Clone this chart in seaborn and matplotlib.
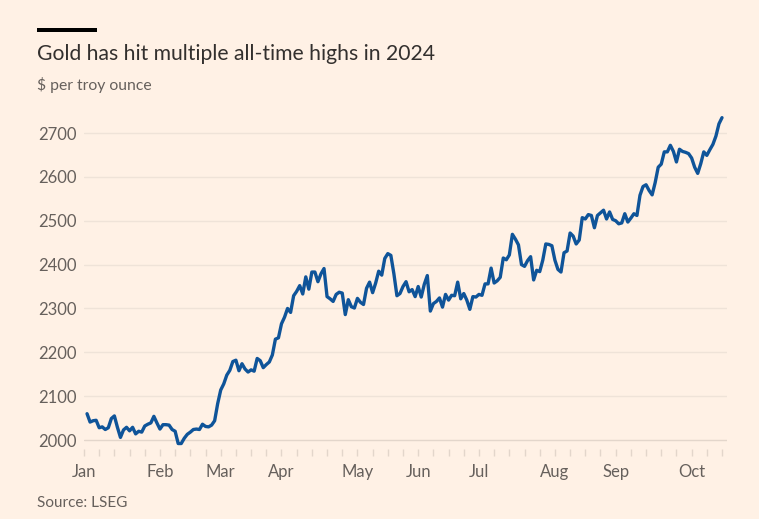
# Gold price 2024 chart (FT style)
import pandas as pd
import numpy as np
import matplotlib.pyplot as plt
from matplotlib.patches import Rectangle
import seaborn as sns

# daily prices ($ per troy ounce), business days per month
jan = [2060, 2041, 2044, 2045, 2028, 2030, 2024, 2028, 2049, 2055, 2029, 2006, 2023, 2029,
       2021, 2029, 2014, 2020, 2018, 2032, 2036, 2039]
feb = [2054, 2039, 2025, 2035, 2035, 2034, 2024, 2020, 1992, 1992, 2004, 2013, 2018, 2024,
       2025, 2024, 2036, 2031, 2030, 2034, 2044]
mar = [2083, 2114, 2128, 2148, 2159, 2179, 2182, 2158, 2174, 2162, 2155, 2160, 2157, 2186,
       2181, 2165, 2172, 2178, 2194, 2230, 2233]
apr = [2265, 2280, 2300, 2291, 2329, 2339, 2352, 2333, 2372, 2344, 2383, 2383, 2361, 2379,
       2391, 2327, 2322, 2316, 2332, 2337, 2335, 2286]
may = [2320, 2304, 2301, 2323, 2314, 2309, 2346, 2360, 2336, 2358, 2385, 2376, 2414, 2425,
       2421, 2379, 2329, 2334, 2350, 2361, 2338, 2343, 2327]
jun = [2350, 2326, 2355, 2375, 2294, 2311, 2316, 2324, 2303, 2332, 2319, 2330, 2329, 2360,
       2322, 2334, 2319, 2298, 2327, 2326]
jul = [2332, 2330, 2356, 2356, 2392, 2358, 2363, 2371, 2415, 2411, 2422, 2469, 2458, 2445,
       2400, 2396, 2409, 2418, 2365, 2387, 2384, 2410, 2447]
aug = [2446, 2443, 2410, 2389, 2383, 2427, 2431, 2472, 2465, 2447, 2456, 2507, 2504, 2514,
       2512, 2484, 2512, 2518, 2524, 2504, 2520, 2503]
sep = [2500, 2493, 2495, 2516, 2497, 2506, 2516, 2512, 2558, 2578, 2582, 2569, 2559, 2587,
       2622, 2629, 2657, 2657, 2672, 2658, 2634]
oct_ = [2663, 2658, 2656, 2653, 2643, 2622, 2608, 2630, 2657, 2649, 2662, 2674, 2693, 2721,
        2735]

month_starts = ["2024-01-02", "2024-02-01", "2024-03-01", "2024-04-01", "2024-05-01",
                "2024-06-03", "2024-07-01", "2024-08-01", "2024-09-02", "2024-10-01"]
months = [jan, feb, mar, apr, may, jun, jul, aug, sep, oct_]

y_ticks = [2000, 2100, 2200, 2300, 2400, 2500, 2600, 2700]
month_labels = ["Jan", "Feb", "Mar", "Apr", "May", "Jun", "Jul", "Aug", "Sep", "Oct"]

# build the dataframe
frames = []
for start, vals in zip(month_starts, months):
    d = pd.bdate_range(start, periods=len(vals))
    frames.append(pd.DataFrame({"date": d, "price": vals}))
df = pd.concat(frames, ignore_index=True)

# trading-day axis: each week is 7 units wide, weekdays evenly spread across it
jan1 = pd.Timestamp("2024-01-01")
def trade_pos(d):
    days = (d - jan1).days
    return (days // 7) * 7 + d.weekday() * 7 / 5
df["x"] = df["date"].apply(trade_pos)

bg = "#fff1e5"
grey = "#66605c"
grid = "#efe3d8"
base = "#e3d6cb"

sns.set_theme(style="white")
plt.rcParams["font.family"] = ["Lato", "DejaVu Sans"]

W, H = 759, 519
fig = plt.figure(figsize=(W / 100, H / 100), dpi=100, facecolor=bg)
# axes placed so 2000 sits at y=440px, 2700 at y=133px
ax = fig.add_axes([84 / W, (H - 448.8) / H, (727 - 84) / W, (448.8 - 106.7) / H])
ax.set_facecolor(bg)

for y in y_ticks:
    ax.axhline(y, color=grid if y != 2000 else base, linewidth=1, zorder=0)

sns.lineplot(data=df, x="x", y="price", ax=ax, color="#0f5499", linewidth=2.4, zorder=3)

ax.set_ylim(1980, 2760)
ax.set_xlim(0, 296.3)
ax.set_yticks(y_ticks)
ax.set_yticklabels([str(v) for v in y_ticks])

# month labels on first Monday of each month, minor ticks weekly
first_mondays = []
for m in range(1, 11):
    d = pd.Timestamp(2024, m, 1)
    while d.weekday() != 0:
        d += pd.Timedelta(days=1)
    first_mondays.append(trade_pos(d))
ax.set_xticks(first_mondays)
ax.set_xticklabels(month_labels)
ax.set_xticks(np.arange(0, 296, 7), minor=True)

for s in ax.spines.values():
    s.set_visible(False)
ax.set_xlabel("")
ax.set_ylabel("")
ax.tick_params(axis="y", length=0, pad=5, labelsize=12, labelcolor=grey)
ax.tick_params(axis="x", which="major", length=5, width=1, color=base, pad=6,
               labelsize=12, labelcolor=grey, bottom=True)
ax.tick_params(axis="x", which="minor", length=5, width=1, color=base, bottom=True)
ax.grid(False)

# header and footer
fig.add_artist(Rectangle((37 / W, 1 - 32 / H), 60 / W, 4 / H, transform=fig.transFigure,
                         color="black", linewidth=0))
fig.text(37 / W, 1 - 60 / H, "Gold has hit multiple all-time highs in 2024", fontsize=15.2,
         color="#33302e", va="baseline", ha="left")
fig.text(37 / W, 1 - 90 / H, "$ per troy ounce", fontsize=11.3, color=grey,
         va="baseline", ha="left")
fig.text(37 / W, 1 - 507 / H, "Source: LSEG", fontsize=11, color=grey,
         va="baseline", ha="left")

fig.savefig("out.png", dpi=100, facecolor=bg)
